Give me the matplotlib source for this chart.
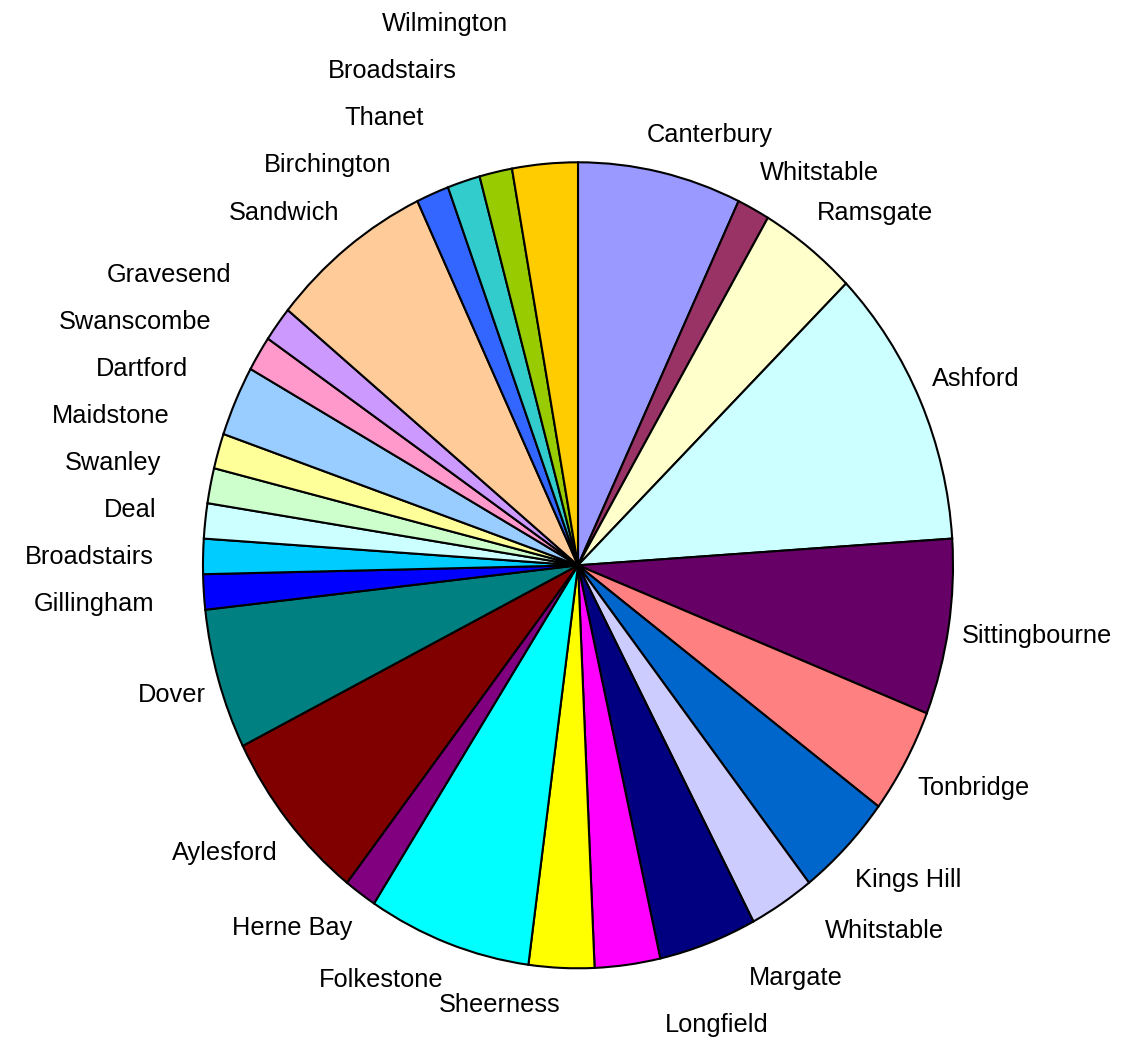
import numpy as np
import matplotlib
matplotlib.use('Agg')
import matplotlib.pyplot as plt

towns = ["Canterbury", "Whitstable", "Ramsgate", "Ashford", "Sittingbourne", "Tonbridge",
         "Kings Hill", "Whitstable", "Margate", "Longfield", "Sheerness", "Folkestone",
         "Herne Bay", "Aylesford", "Dover", "Gillingham", "Broadstairs", "Deal", "Swanley",
         "Maidstone", "Dartford", "Swanscombe", "Gravesend", "Sandwich", "Birchington",
         "Thanet", "Broadstairs", "Wilmington"]
counts = [5, 1, 3, 8, 5, 3, 3, 2, 3, 2, 2, 5, 1, 5, 4, 1, 1, 1, 1, 1, 2, 1, 1, 5, 1, 1, 1, 2]
colours = ["#9999FF", "#993366", "#FFFFCC", "#CCFFFF", "#660066", "#FF8080", "#0066CC",
           "#CCCCFF", "#000080", "#FF00FF", "#FFFF00", "#00FFFF", "#800080", "#800000",
           "#008080", "#0000FF", "#00CCFF", "#CCFFFF", "#CCFFCC", "#FFFF99", "#99CCFF",
           "#FF99CC", "#CC99FF", "#FFCC99", "#3366FF", "#33CCCC", "#99CC00", "#FFCC00"]

W, H = 1121, 1045
CX, CY = 578, 565.3      # pie centre in px (from top left)
RX, RY = 375, 403        # pie is a bit taller than wide
K = 1.035                # label distance
GAP = 47                 # label spacing when stacked
PUSH = 36                # extra outward shift for stacked labels
PULL = 8                 # stacked groups sit a little closer to the horizontal

fig = plt.figure(figsize=(W / 100, H / 100), dpi=100)
ax = fig.add_axes([0, 0, 1, 1])
ax.pie(counts, colors=colours, startangle=90, counterclock=False,
       wedgeprops=dict(edgecolor='black', linewidth=1.5))
ax.set_aspect('auto')
ax.set_xlim(-CX / RX, (W - CX) / RX)
ax.set_ylim(-(H - CY) / RY, CY / RY)
ax.axis('off')

# label placement, worked out in pixels
frac = np.array(counts) / sum(counts)
mid = 2 * np.pi * (np.cumsum(frac) - frac / 2)   # clockwise from 12 o'clock
s, c = np.sin(mid), np.cos(mid)

texts = [ax.text(0, 0, t, fontsize=18.3, family=['Liberation Sans', 'DejaVu Sans'],
                 va='center', ha='left') for t in towns]
renderer = fig.canvas.get_renderer()
w = np.array([t.get_window_extent(renderer).width for t in texts])

n = len(towns)
anchor_x = CX + RX * K * s
y_nat = CY - RY * K * c - 23.5 * np.clip(c / 0.6, -1, 1)
hfrac = np.where(c > 0, np.clip(0.5 - 0.5 * np.abs(s) / 0.3, 0, 0.5), 0)
left = np.where(s >= 0, anchor_x - hfrac * w, anchor_x + hfrac * w - w)


def x_overlap(i, j):
    return min(left[i] + w[i], left[j] + w[j]) - max(left[i], left[j])


y = y_nat.copy()
clusters = []
for side in (s >= 0, s < 0):
    lower = sorted([i for i in range(n) if side[i] and c[i] < 0], key=lambda i: -c[i])
    upper = sorted([i for i in range(n) if side[i] and c[i] >= 0], key=lambda i: c[i])
    for seq, sign in ((lower, 1), ([lower[0]] + upper if lower else upper, -1)):
        cur = [seq[0]] if seq else []
        for prev, i in zip(seq[:-1], seq[1:]):
            need = y[prev] + sign * GAP
            if x_overlap(i, prev) > 15 and (y[i] - need) * sign < 0:
                y[i] = need
                cur.append(i)
            else:
                clusters.append(cur)
                cur = [i]
        clusters.append(cur)

# small clusters keep their place, big ones are stacked and pushed out
shifted = set()
for cl in clusters:
    if len(cl) < 3:
        for i in cl:
            if i not in shifted:
                y[i] = y_nat[i]
    else:
        shifted.update(cl)
        y[cl] += PULL * np.sign(np.mean(c[cl]))

for i, t in enumerate(texts):
    if i in shifted:
        lx = anchor_x[i] + PUSH if s[i] >= 0 else anchor_x[i] - PUSH - w[i]
    else:
        lx = left[i]
    t.set_position(((lx - CX) / RX, (CY - y[i]) / RY))

fig.savefig('out.png', dpi=100, facecolor='white')
